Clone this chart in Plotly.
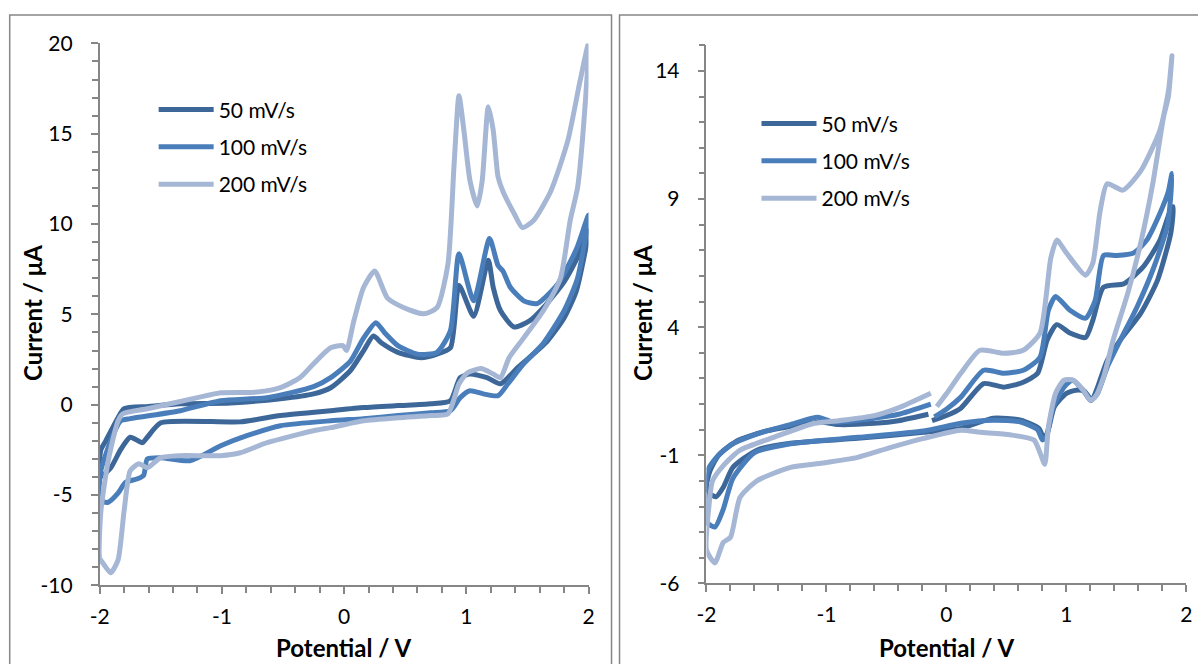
import plotly.graph_objects as go

# ---------------- data: left voltammogram ----------------
L50_x = [-2.0, -1.99, -1.95, -1.85, -1.80, -1.6, -1.34, -0.93, -0.52, -0.25, -0.11, 0.05, 0.16, 0.24, 0.31,
         0.44, 0.63, 0.76, 0.87, 0.94, 1.06, 1.18, 1.22, 1.28, 1.39, 1.52, 1.63, 1.8, 1.92, 2.0,
         1.9, 1.8, 1.66, 1.42, 1.28, 1.17, 1.03, 0.95, 0.87, 0.71, 0.44, 0.16, -0.11, -0.52, -0.85,
         -1.5, -1.61, -1.65, -1.75, -1.83, -1.91, -2.0]
L50_y = [-4.0, -2.5, -2.0, -0.72, -0.22, -0.1, 0.05, 0.1, 0.33, 0.6, 0.94, 1.88, 3.0, 3.8, 3.4,
         2.9, 2.6, 2.8, 3.15, 6.6, 4.9, 8.0, 6.5, 5.2, 4.3, 4.65, 5.37, 6.8, 8.3, 9.6,
         6.3, 4.8, 3.5, 2.05, 1.16, 1.5, 1.7, 1.5, 0.22, 0.05, -0.05, -0.16, -0.33, -0.6, -0.95,
         -1.0, -1.8, -2.1, -1.8, -2.5, -3.5, -4.0]

L100_x = [-2.0, -1.99, -1.91, -1.83, -1.75, -1.34, -1.01, -0.63, -0.25, -0.11, 0.05, 0.16, 0.26, 0.33,
          0.44, 0.6, 0.76, 0.87, 0.94, 1.06, 1.19, 1.26, 1.30, 1.36, 1.47, 1.58, 1.75, 1.9, 2.0,
          1.91, 1.80, 1.63, 1.47, 1.34, 1.26, 1.14, 1.03, 0.95, 0.87, 0.71, 0.44, 0.16, -0.11, -0.52,
          -0.79, -1.01, -1.26, -1.5, -1.61, -1.64, -1.69, -1.79, -1.85, -1.93, -2.0]
L100_y = [-5.3, -3.65, -2.0, -0.9, -0.77, -0.33, 0.22, 0.39, 1.0, 1.5, 2.4, 3.7, 4.54, 4.0,
          3.27, 2.8, 2.9, 4.1, 8.35, 5.75, 9.2, 7.7, 7.4, 6.5, 5.75, 5.6, 6.7, 8.6, 10.5,
          7.0, 5.2, 3.4, 2.27, 1.16, 0.5, 0.6, 0.77, 0.39, -0.33, -0.44, -0.6, -0.77, -0.89, -1.16,
          -1.7, -2.27, -3.1, -2.93, -3.0, -3.9, -4.1, -4.3, -4.9, -5.4, -5.3]

L200_x = [-2.0, -1.99, -1.93, -1.85, -1.81, -1.61, -1.2, -1.01, -0.71, -0.52, -0.36, -0.25, -0.11, -0.01,
          0.02, 0.08, 0.16, 0.25, 0.355, 0.49, 0.65, 0.76, 0.85, 0.9, 0.94, 0.98, 1.03, 1.09, 1.13,
          1.18, 1.22, 1.26, 1.30, 1.39, 1.46, 1.55, 1.69, 1.83, 1.93, 2.0,
          1.96, 1.91, 1.85, 1.77, 1.63, 1.47, 1.35, 1.28, 1.22, 1.12, 1.01, 0.94, 0.85, 0.71, 0.44,
          0.16, -0.11, -0.25, -0.63, -0.85, -1.01, -1.34, -1.50, -1.61, -1.68, -1.75, -1.80, -1.85,
          -1.91, -1.97, -2.0]
L200_y = [-8.5, -5.9, -3.1, -0.9, -0.5, -0.22, 0.39, 0.66, 0.7, 0.94, 1.5, 2.27, 3.15, 3.27,
          3.0, 4.65, 6.5, 7.4, 5.9, 5.37, 5.03, 5.37, 7.8, 13.3, 17.1, 15.2, 12.4, 11.0, 12.4,
          16.5, 15.2, 12.6, 11.8, 10.6, 9.8, 10.2, 11.8, 14.6, 17.9, 20.0,
          15.5, 12.0, 10.2, 7.0, 5.2, 3.7, 2.6, 1.5, 1.7, 2.0, 1.77, 1.16, -0.5, -0.6, -0.72,
          -0.89, -1.27, -1.44, -2.1, -2.66, -2.82, -2.82, -2.93, -3.49, -3.27, -3.65, -5.87, -8.6,
          -9.3, -8.8, -8.5]

# ---------------- data: right voltammogram ----------------
R50_x = [-0.12, 0.0, 0.12, 0.31, 0.48, 0.64, 0.76, 0.84, 0.92, 1.03, 1.16, 1.22, 1.31, 1.48, 1.64, 1.78, 1.87, 1.89,
         1.87, 1.76, 1.62, 1.45, 1.34, 1.26, 1.21, 1.15, 1.08, 1.0, 0.9, 0.84, 0.81, 0.77, 0.62, 0.39, 0.12,
         -0.19, -0.74, -1.3, -1.58, -1.78, -1.86, -1.92, -1.97, -2.0,
         -1.97, -1.9, -1.75, -1.5, -1.2, -1.05, -0.9, -0.6, -0.4, -0.15]
R50_y = [0.35, 0.55, 0.84, 1.8, 1.66, 1.85, 2.2, 3.5, 4.1, 3.77, 3.6, 4.27, 5.56, 5.7, 6.35, 7.4, 8.6, 8.7,
         7.67, 5.84, 4.55, 3.5, 2.7, 1.66, 1.15, 1.5, 1.54, 1.42, 0.9, -0.15, -0.3, 0.05, 0.37, 0.45, 0.05,
         -0.1, -0.34, -0.53, -0.8, -1.47, -2.25, -2.62, -2.5, -2.2,
         -1.6, -1.0, -0.45, -0.05, 0.2, 0.3, 0.2, 0.25, 0.35, 0.6]

R100_x = [-0.1, 0.0, 0.12, 0.31, 0.48, 0.64, 0.78, 0.85, 0.91, 1.03, 1.16, 1.24, 1.31, 1.42, 1.56, 1.67, 1.78, 1.85, 1.88,
          1.86, 1.84, 1.73, 1.59, 1.45, 1.34, 1.26, 1.2, 1.14, 1.05, 0.98, 0.89, 0.83, 0.8, 0.76, 0.62, 0.39, 0.12,
          -0.19, -0.74, -1.3, -1.6, -1.78, -1.86, -1.93, -2.0,
          -1.99, -1.9, -1.8, -1.6, -1.3, -1.07, -0.95, -0.6, -0.4, -0.13]
R100_y = [0.5, 0.8, 1.27, 2.32, 2.2, 2.32, 2.83, 4.66, 5.2, 4.66, 4.35, 5.05, 6.8, 6.8, 6.9, 7.4, 8.45, 9.3, 10.0,
          8.6, 7.9, 6.35, 4.8, 3.5, 2.44, 1.42, 1.15, 1.54, 1.93, 1.66, 0.88, -0.3, -0.4, 0.0, 0.3, 0.37, 0.25,
          -0.05, -0.3, -0.55, -0.9, -1.9, -3.1, -3.8, -3.6,
          -1.6, -1.0, -0.6, -0.2, 0.2, 0.48, 0.3, 0.45, 0.6, 1.0]

R200_x = [-0.08, 0.0, 0.12, 0.28, 0.48, 0.64, 0.78, 0.87, 0.92, 1.0, 1.16, 1.22, 1.28, 1.34, 1.47, 1.62, 1.78, 1.85, 1.88,
          1.85, 1.81, 1.72, 1.62, 1.51, 1.39, 1.31, 1.24, 1.2, 1.14, 1.06, 0.98, 0.91, 0.85, 0.82, 0.78, 0.73, 0.53,
          0.28, 0.12, -0.19, -0.47, -0.74, -1.03, -1.3, -1.58, -1.72, -1.8, -1.86, -1.93, -2.0,
          -1.98, -1.95, -1.86, -1.72, -1.44, -1.1, -0.9, -0.6, -0.4, -0.13]
R200_y = [0.9, 1.4, 2.2, 3.1, 2.98, 3.1, 3.77, 6.7, 7.4, 6.9, 6.03, 6.5, 8.5, 9.6, 9.35, 10.1, 11.7, 13.2, 14.6,
          13.0, 12.2, 9.6, 7.3, 5.3, 3.5, 2.05, 1.27, 1.15, 1.54, 1.93, 1.93, 1.42, 0.1, -1.35, -0.9, -0.4, -0.2,
          -0.1, -0.02, -0.34, -0.7, -1.08, -1.3, -1.47, -2.0, -2.64, -4.2, -4.4, -5.2, -4.7,
          -3.0, -2.0, -1.4, -0.8, -0.3, 0.25, 0.35, 0.55, 0.85, 1.42]

series_names = ["50 mV/s", "100 mV/s", "200 mV/s"]
series_colors = ["#3C6798", "#4A7EBB", "#A5B7D5"]

x_ticks = [-2, -1, 0, 1, 2]
x_tick_text = ["-2", "-1", "0", "1", "2"]
left_y_ticks = [-10, -5, 0, 5, 10, 15, 20]
left_y_text = ["-10", "-5", "0", "5", "10", "15", "20"]
right_y_ticks = [-6, -1, 4, 9, 14]
right_y_text = ["-6", "-1", "4", "9", "14"]

# ---------------- figure ----------------
FONT = "Lato, 'Open Sans', sans-serif"
AXC = "#868686"

# layout positions below are given in screen pixels of the final view; the page
# is shown shifted and slightly scaled, so they are converted to figure pixels.
SHIFT_X, SHIFT_Y = 9.3, 13.6
SCALE_X, SCALE_Y = 0.987, 0.963
W, H = 1204, 675

fig = go.Figure()

left_sets = [(L50_x, L50_y), (L100_x, L100_y), (L200_x, L200_y)]
right_sets = [(R50_x, R50_y), (R100_x, R100_y), (R200_x, R200_y)]

for i, ((xs, ys), name, col) in enumerate(zip(left_sets, series_names, series_colors)):
    fig.add_trace(go.Scatter(x=xs, y=ys, mode="lines", name=name, xaxis="x", yaxis="y",
                             line=dict(color=col, width=5, shape="spline", smoothing=0.6),
                             legend="legend", legendgroup=f"L{i}"))
for i, ((xs, ys), name, col) in enumerate(zip(right_sets, series_names, series_colors)):
    fig.add_trace(go.Scatter(x=xs, y=ys, mode="lines", name=name, xaxis="x2", yaxis="y2",
                             line=dict(color=col, width=5, shape="spline", smoothing=0.6),
                             legend="legend2", legendgroup=f"R{i}"))


def px_x(p):
    return ((p - SHIFT_X) / SCALE_X) / W


def px_y(p):
    return 1 - ((p - SHIFT_Y) / SCALE_Y) / H


tickfont = dict(family=FONT, size=21, color="black")


def xaxis(domain, anchor, inside=False, overlay=None):
    d = dict(domain=domain, anchor=anchor, range=[-2, 2], autorange=False,
             tickvals=x_ticks, ticktext=x_tick_text, ticks="inside" if inside else "outside", ticklen=7,
             tickwidth=1.5, tickcolor=AXC, showline=not inside, linecolor=AXC, linewidth=1.5,
             showgrid=False, zeroline=False, showticklabels=not inside, tickfont=tickfont,
             ticklabelstandoff=5,
             minor=dict(dtick=0.2, tick0=-2, ticks="inside" if inside else "outside",
                        ticklen=6, tickwidth=1.5, tickcolor=AXC, showgrid=False))
    if overlay:
        d["overlaying"] = overlay
        d.pop("domain")
    return d


def yaxis(domain, anchor, rng, tvals, ttext, inside=False, overlay=None):
    d = dict(domain=domain, anchor=anchor, range=rng, autorange=False,
             tickvals=tvals, ticktext=ttext, ticks="inside" if inside else "outside", ticklen=7,
             tickwidth=1.5, tickcolor=AXC, showline=not inside, linecolor=AXC, linewidth=1.5,
             showgrid=False, zeroline=False, showticklabels=not inside, tickfont=tickfont,
             ticklabelstandoff=14,
             minor=dict(dtick=1, tick0=rng[0], ticks="inside" if inside else "outside",
                        ticklen=6, tickwidth=1.5, tickcolor=AXC, showgrid=False))
    if overlay:
        d["overlaying"] = overlay
        d.pop("domain")
    return d


LX = [px_x(99), px_x(588)]
LY = [px_y(585), px_y(43)]
RX = [px_x(706), px_x(1186)]
RY = [px_y(583), px_y(45)]

legend_font = dict(family=FONT, size=21, color="black")

fig.update_layout(
    width=W, height=H, margin=dict(l=0, r=0, t=0, b=0),
    paper_bgcolor="white", plot_bgcolor="rgba(0,0,0,0)",
    font=dict(family=FONT, color="black"),
    xaxis=xaxis(LX, "y"),
    yaxis=yaxis(LY, "x", [-10, 20], left_y_ticks, left_y_text),
    xaxis2=xaxis(RX, "y2"),
    yaxis2=yaxis(RY, "x2", [-6, 15], right_y_ticks, right_y_text),
    xaxis3=xaxis(LX, "y", inside=True, overlay="x"),
    yaxis3=yaxis(LY, "x", [-10, 20], left_y_ticks, left_y_text, inside=True, overlay="y"),
    xaxis4=xaxis(RX, "y2", inside=True, overlay="x2"),
    yaxis4=yaxis(RY, "x2", [-6, 15], right_y_ticks, right_y_text, inside=True, overlay="y2"),
    legend=dict(x=px_x(153), y=px_y(89), xanchor="left", yanchor="top",
                font=legend_font, bgcolor="rgba(0,0,0,0)",
                itemwidth=55, tracegroupgap=7),
    legend2=dict(x=px_x(756), y=px_y(103), xanchor="left", yanchor="top",
                 font=legend_font, bgcolor="rgba(0,0,0,0)",
                 itemwidth=55, tracegroupgap=7),
    showlegend=True,
)

# panel frames
fig.add_shape(type="rect", xref="paper", yref="paper", x0=px_x(9), x1=px_x(611), y0=px_y(720), y1=px_y(14.5),
              line=dict(color=AXC, width=1.5), layer="below")
fig.add_shape(type="rect", xref="paper", yref="paper", x0=px_x(619), x1=px_x(1240), y0=px_y(720), y1=px_y(14.5),
              line=dict(color=AXC, width=1.5), layer="below")

# axis titles
title_font = dict(family=FONT, size=24, color="black", weight="bold")
for cx, cy in [(32, 313), (642, 313)]:
    fig.add_annotation(text="Current / μA", x=px_x(cx), y=px_y(cy), xref="paper", yref="paper",
                       textangle=-90, showarrow=False, font=title_font, xanchor="center", yanchor="middle")
for cx in [343, 946]:
    fig.add_annotation(text="Potential / V", x=px_x(cx), y=px_y(647), xref="paper", yref="paper",
                       showarrow=False, font=title_font, xanchor="center", yanchor="middle")

fig.write_html("out.html")
